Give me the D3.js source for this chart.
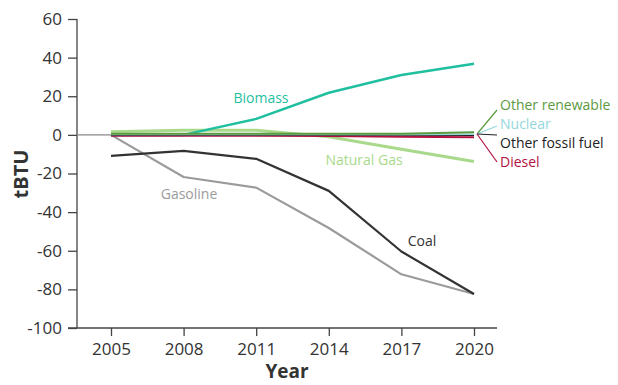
<!DOCTYPE html>
<html><head><meta charset="utf-8">
<script src="https://cdn.jsdelivr.net/npm/d3@7"></script>
<style>
body{margin:0;background:#fff;}
text{font-family:"Open Sans","Noto Sans",sans-serif;}
</style></head>
<body><svg id="c" width="618" height="385"></svg>
<script>
const years = [2005, 2008, 2011, 2014, 2017, 2020];
const yTicks = [60, 40, 20, 0, -20, -40, -60, -80, -100];
const gasoline = [0, -21.8, -27.3, -48.2, -72.2, -82.4];
const coal = [-10.9, -8.3, -12.4, -29, -60.4, -82.4];
const naturalGas = [1.6, 2.4, 2.4, -1, -7.4, -13.8];
const biomass = [0, 0, 8.3, 21.8, 31, 36.8];
const otherRenewable = [0.6, 0.6, 0.6, 0.6, 0.6, 1.3];
const nuclear = [0.2, 0.2, 0.2, 0.2, 0.2, 0.3];
const otherFossil = [0, 0, 0, 0, 0, -0.2];
const diesel = [-0.4, -0.4, -0.4, -0.6, -1, -1.2];

const series = [
  {name:"Gasoline", values:gasoline, color:"#9b9b9b", w:2.2},
  {name:"Coal", values:coal, color:"#333333", w:2.2},
  {name:"Natural Gas", values:naturalGas, color:"#a9d98b", w:3},
  {name:"Biomass", values:biomass, color:"#1fbf9f", w:2.5},
  {name:"Diesel", values:diesel, color:"#b3123f", w:2},
  {name:"Other fossil fuel", values:otherFossil, color:"#222222", w:1.5},
  {name:"Nuclear", values:nuclear, color:"#93d6dc", w:1.5},
  {name:"Other renewable", values:otherRenewable, color:"#5b9a3f", w:2}
];

const svg = d3.select("#c");
const x = d3.scaleLinear().domain([2005, 2020]).range([111, 474]);
const y = d3.scaleLinear().domain([-100, 60]).range([328, 19]);
const axisColor = "#444";

// y axis
const ya = svg.append("g").attr("transform","translate(77,0)")
  .call(d3.axisLeft(y).tickValues(yTicks).tickSize(9).tickPadding(6).tickFormat(d => String(d)));
ya.select(".domain").attr("stroke",axisColor).attr("stroke-width",1.3).attr("d","M0,19V328");
ya.selectAll(".tick line").attr("stroke",axisColor).attr("stroke-width",1.3);
ya.selectAll(".tick text").attr("font-size",17).attr("fill","#333").attr("font-family","Open Sans");

// x axis
const xa = svg.append("g").attr("transform","translate(0,328)")
  .call(d3.axisBottom(x).tickValues(years).tickSize(8).tickPadding(7).tickFormat(d => String(d)));
xa.select(".domain").attr("stroke",axisColor).attr("stroke-width",1.3).attr("d","M68,0H497");
xa.selectAll(".tick line").attr("stroke",axisColor).attr("stroke-width",1.3);
xa.selectAll(".tick text").attr("font-size",17).attr("fill","#333").attr("font-family","Open Sans");

// axis titles
svg.append("text").attr("x",287).attr("y",378).attr("text-anchor","middle")
  .attr("font-size",19).attr("font-weight","bold").attr("fill","#333").text("Year");
svg.append("text").attr("transform","translate(28,174) rotate(-90)").attr("text-anchor","middle")
  .attr("font-size",20).attr("font-weight","bold").attr("fill","#333").text("tBTU");

// zero line
svg.append("line").attr("x1",77).attr("x2",x(2020)).attr("y1",y(0)).attr("y2",y(0))
  .attr("stroke","#888").attr("stroke-width",1.3);

const line = d3.line().x((d,i)=>x(years[i])).y(d=>y(d));
series.forEach(s=>{
  svg.append("path").attr("d",line(s.values)).attr("fill","none")
    .attr("stroke",s.color).attr("stroke-width",s.w).attr("stroke-linejoin","round");
});

// inline labels
const inl = [
  {t:"Biomass", x:261, y:103, c:"#1fbf9f"},
  {t:"Gasoline", x:189, y:199, c:"#9b9b9b"},
  {t:"Natural Gas", x:364, y:165, c:"#a9d98b"},
  {t:"Coal", x:422, y:246, c:"#333333"}
];
inl.forEach(l=>svg.append("text").attr("x",l.x).attr("y",l.y).attr("text-anchor","middle")
  .attr("font-size",14).attr("fill",l.c).text(l.t));

// right labels with leaders
const rl = [
  {t:"Other renewable", ly:110, ty:110, c:"#5b9a3f"},
  {t:"Nuclear", ly:126, ty:129, c:"#93d6dc"},
  {t:"Other fossil fuel", ly:135, ty:148, c:"#222222"},
  {t:"Diesel", ly:162, ty:167, c:"#b3123f"}
];
rl.forEach(l=>{
  svg.append("line").attr("x1",477).attr("y1",134).attr("x2",497).attr("y2",l.ly)
    .attr("stroke",l.c).attr("stroke-width",1.2);
  svg.append("text").attr("x",500).attr("y",l.ty).attr("font-size",14).attr("fill",l.c).text(l.t);
});
</script></body></html>
